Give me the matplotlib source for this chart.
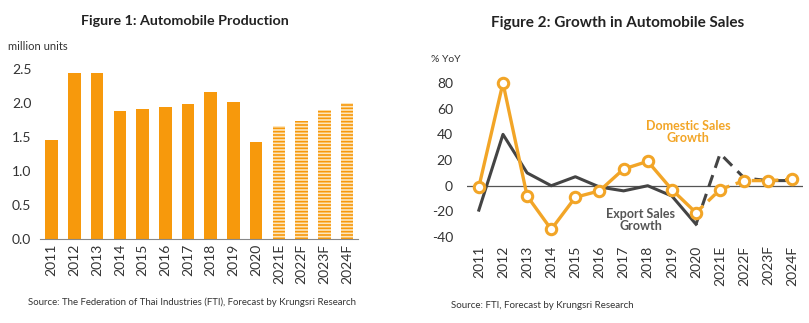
import matplotlib
matplotlib.use("Agg")
import matplotlib.pyplot as plt
import numpy as np

plt.rcParams['font.family'] = ['Lato', 'DejaVu Sans']
plt.rcParams['hatch.linewidth'] = 1.2
plt.rcParams['axes.unicode_minus'] = False

years = ["2011", "2012", "2013", "2014", "2015", "2016", "2017", "2018", "2019", "2020",
         "2021E", "2022F", "2023F", "2024F"]
production = [1.45, 2.45, 2.45, 1.88, 1.91, 1.94, 1.99, 2.17, 2.01, 1.43, 1.66, 1.74, 1.90, 2.00]
n_actual = 10  # first 10 are actual, rest forecast

domestic = [-1, 80, -8, -34, -9, -4, 13, 19, -3, -21, -3, 4, 4, 5]
export = [-19, 40, 10, 0, 7, -1, -4, 0, -8, -30, 25, 6, 4, 4]

ORANGE = "#F7990C"
GOLD = "#F2A527"
DARK = "#444444"

fig = plt.figure(figsize=(8.09, 3.23), dpi=100)

# ---- Figure 1 ----
ax1 = fig.add_axes([0.049, 0.26, 0.394, 0.526])
x = np.arange(len(years))
ax1.bar(x[:n_actual], production[:n_actual], width=0.55, color=ORANGE)
ax1.bar(x[n_actual:], production[n_actual:], width=0.55, color="#FDE6BD",
        edgecolor=ORANGE, hatch="-----", linewidth=0)
ax1.set_xlim(-0.53, 13.5)
ax1.set_ylim(0, 2.5)
ax1.set_yticks([0, 0.5, 1.0, 1.5, 2.0, 2.5])
ax1.set_yticklabels(["0.0", "0.5", "1.0", "1.5", "2.0", "2.5"])
ax1.set_xticks(x)
ax1.set_xticklabels(years, rotation=90)
for s in ["top", "right", "left"]:
    ax1.spines[s].set_visible(False)
ax1.spines["bottom"].set_color("#888888")
ax1.tick_params(axis="both", length=0, labelsize=10, colors="#333333")
ax1.tick_params(axis="y", pad=6)

fig.text(0.228, 0.935, "Figure 1: Automobile Production", ha="center", va="center",
         fontsize=10.3, fontweight="bold", color="#222222")
fig.text(0.010, 0.855, "million units", ha="left", va="center", fontsize=8, color="#333333")
fig.text(0.035, 0.063, "Source: The Federation of Thai Industries (FTI), Forecast by Krungsri Research",
         ha="left", va="center", fontsize=6.9, color="#333333")

# ---- Figure 2 ----
ax2 = fig.add_axes([0.577, 0.266, 0.416, 0.477])
ax2.set_xlim(-0.5, 13.45)
ax2.set_ylim(-40, 80)
ax2.axhline(0, color="#555555", linewidth=0.9, zorder=1)

ax2.plot(x[:n_actual], export[:n_actual], color=DARK, linewidth=2.2, zorder=2)
ax2.plot(x[n_actual - 1:], export[n_actual - 1:], color=DARK, linewidth=2.2,
         linestyle=(0, (4, 2.5)), zorder=2)
ax2.plot(x[:n_actual], domestic[:n_actual], color=GOLD, linewidth=2.4, zorder=3)
ax2.plot(x[n_actual - 1:], domestic[n_actual - 1:], color=GOLD, linewidth=2.4,
         linestyle=(0, (3, 2)), zorder=3)
ax2.plot(x, domestic, linestyle="none", marker="o", markersize=7.5, markerfacecolor="white",
         markeredgecolor=GOLD, markeredgewidth=2.2, zorder=4, clip_on=False)

ax2.set_yticks([-40, -20, 0, 20, 40, 60, 80])
ax2.set_xticks(x)
ax2.set_xticklabels(years, rotation=90)
for s in ["top", "right", "left", "bottom"]:
    ax2.spines[s].set_visible(False)
ax2.tick_params(axis="both", length=0, labelsize=10, colors="#333333")
ax2.tick_params(axis="y", pad=10)
ax2.tick_params(axis="x", pad=6)

ax2.text(8.67, 42, "Domestic Sales\nGrowth", ha="center", va="center", fontsize=9,
         fontweight="bold", color=GOLD, linespacing=1.0)
ax2.text(6.72, -26.5, "Export Sales\nGrowth", ha="center", va="center", fontsize=9,
         fontweight="bold", color="#555555", linespacing=1.0)

fig.text(0.763, 0.93, "Figure 2: Growth in Automobile Sales", ha="center", va="center",
         fontsize=11, fontweight="bold", color="#222222")
fig.text(0.533, 0.815, "% YoY", ha="left", va="center", fontsize=7.5, color="#333333")
fig.text(0.558, 0.055, "Source: FTI, Forecast by Krungsri Research",
         ha="left", va="center", fontsize=7, color="#333333")

fig.savefig("out.png", dpi=100)
